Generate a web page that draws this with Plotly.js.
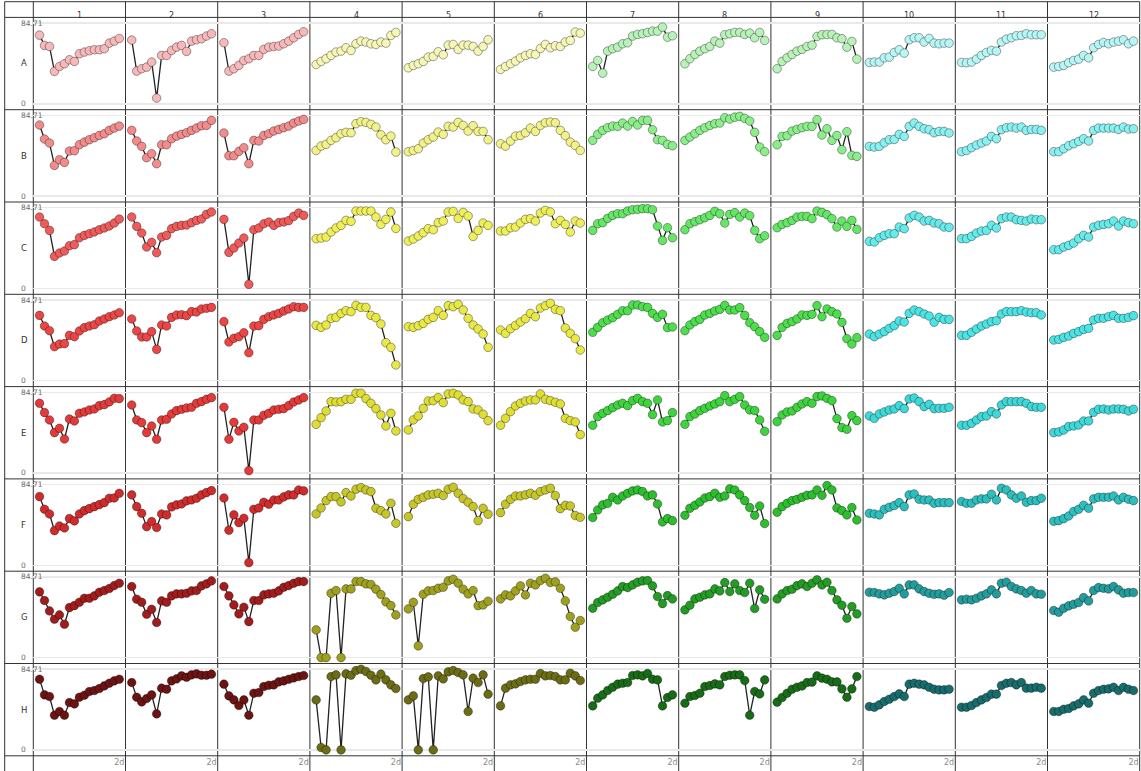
<!DOCTYPE html>
<html><head><meta charset="utf-8">
<script src="https://cdn.plot.ly/plotly-3.0.1.min.js"></script>
<style>html,body{margin:0;padding:0;background:#fff}#chart{width:1141px;height:771px}</style>
</head><body><div id="chart"></div>
<script>
const rowLabels = ['A','B','C','D','E','F','G','H'];
const colLabels = ['1','2','3','4','5','6','7','8','9','10','11','12'];
const timeSteps = [0,1,2,3,4,5,6,7,8,9,10,11,12,13,14,15,16];
const xTickLabel = '2d';
const yMin = 0;
const yMax = 84.71;

const A1 = [72.1,61.3,60.2,34.0,39.2,42.0,46.2,44.5,52.5,54.3,55.7,56.7,56.7,57.8,63.7,65.8,68.6];
const A2 = [66.9,34.3,36.8,38.5,43.8,6.0,50.8,50.8,56.0,59.5,61.3,55.0,65.8,67.2,68.3,71.1,73.5];
const A3 = [64.1,34.3,36.8,40.3,45.5,47.3,50.8,50.8,57.1,59.5,60.2,60.6,63.0,65.8,69.3,72.8,75.6];
const A4 = [41.3,44.5,47.3,50.8,54.3,55.3,58.8,56.0,63.0,65.8,64.8,63.0,62.3,64.8,63.7,71.8,74.9];
const A5 = [37.8,40.3,42.0,44.5,49.0,49.7,54.6,51.5,61.6,62.3,57.1,61.6,61.6,60.2,55.3,60.2,67.2];
const A6 = [36.1,39.2,42.0,44.8,48.3,50.8,52.5,51.8,58.1,62.3,58.8,60.9,60.2,64.8,66.5,75.3,74.2];
const A7 = [39.2,45.5,32.2,55.3,57.8,59.5,63.0,64.1,71.1,72.8,73.5,74.9,76.3,76.3,80.5,70.0,71.4];
const A8 = [42.0,47.3,51.8,55.3,57.8,60.2,65.8,63.7,72.5,73.5,74.9,74.9,72.8,74.2,69.3,74.9,66.5];
const A9 = [36.8,44.5,48.3,51.8,55.3,57.1,60.2,61.6,70.7,72.5,72.8,72.8,69.3,68.3,59.5,65.5,46.9];
const A10 = [43.4,43.8,43.8,48.3,49.0,53.9,56.7,53.2,67.2,69.3,69.3,64.8,68.6,63.7,63.0,63.7,63.7];
const A11 = [43.4,43.1,43.8,46.9,50.8,53.9,56.0,55.3,64.8,67.9,69.3,71.4,71.8,73.5,72.5,72.5,72.5];
const A12 = [38.5,39.2,40.3,43.1,45.5,46.9,50.8,48.3,58.8,62.3,64.4,63.0,64.8,65.8,67.2,63.0,65.8];

const B1 = [74.6,59.9,55.7,32.2,38.2,35.4,47.3,47.6,53.9,56.7,59.2,61.3,63.7,65.5,69.0,71.4,73.5];
const B2 = [69.0,57.8,52.2,40.3,44.5,34.0,53.9,53.9,60.2,63.0,64.8,66.5,69.0,71.4,73.9,74.2,79.5];
const B3 = [66.2,42.4,42.4,46.9,50.8,34.0,58.5,57.8,63.7,65.5,68.3,70.0,71.8,73.5,76.7,78.8,80.5];
const B4 = [47.9,52.5,54.3,58.5,61.3,65.5,66.9,66.5,76.0,78.1,77.4,75.3,72.5,64.4,59.2,63.0,46.2];
const B5 = [46.6,47.9,49.7,55.7,59.2,62.0,67.2,64.8,73.2,72.5,77.4,74.2,68.3,73.9,67.9,67.9,59.2];
const B6 = [55.0,52.5,57.8,63.0,63.7,66.5,71.4,67.9,74.2,77.0,77.7,77.0,69.0,63.4,56.7,53.2,47.9];
const B7 = [58.5,64.8,69.0,71.8,73.5,73.2,76.7,73.5,78.4,74.6,79.5,79.5,69.7,59.2,58.5,54.3,52.9];
const B8 = [58.5,62.0,65.5,69.0,71.8,74.2,76.0,76.7,82.3,80.9,82.9,83.7,81.6,78.8,66.9,51.5,46.6];
const B9 = [53.9,62.7,63.4,68.3,70.0,71.8,73.2,73.2,80.2,64.1,70.7,58.5,63.7,48.7,67.6,42.7,41.7];
const B10 = [52.2,51.5,52.2,56.0,59.2,59.5,64.8,62.7,73.2,76.7,73.2,70.7,69.7,66.5,67.9,67.9,66.2];
const B11 = [46.6,47.9,50.8,53.6,55.7,57.8,62.7,60.2,69.7,71.8,72.5,71.4,72.5,69.0,70.0,70.0,69.0];
const B12 = [46.6,46.6,49.7,52.9,55.0,57.4,60.2,57.8,69.0,71.4,71.4,71.4,71.4,70.0,72.5,70.4,70.7];

const C1 = [74.9,67.9,60.9,33.6,37.1,39.2,44.8,45.9,53.2,55.7,57.4,59.2,61.6,63.4,65.5,68.6,72.8];
const C2 = [74.9,65.1,58.1,43.4,48.3,37.5,53.9,55.7,62.7,65.1,66.2,66.5,69.0,71.4,72.8,77.7,80.2];
const C3 = [72.5,37.8,42.4,47.6,52.9,4.2,61.6,63.4,67.9,69.7,66.2,69.0,69.7,71.1,75.6,79.1,76.7];
const C4 = [52.2,52.9,53.9,59.2,63.4,66.2,71.4,70.4,81.2,81.2,81.2,81.2,74.9,67.2,72.5,80.2,63.0];
const C5 = [49.7,51.8,55.0,58.5,62.7,61.6,69.0,70.7,80.2,80.9,73.5,79.8,76.0,54.6,60.9,68.6,66.2];
const C6 = [60.2,60.2,63.7,64.4,68.6,72.5,73.2,70.7,79.1,81.9,80.2,67.9,71.4,67.2,59.2,70.7,68.6];
const C7 = [60.9,67.9,69.0,73.5,76.7,78.4,78.4,81.2,82.6,83.0,83.7,83.7,82.6,65.5,50.4,63.7,53.2];
const C8 = [61.6,67.9,70.0,72.1,74.2,76.7,80.9,78.4,68.6,77.7,79.5,74.9,79.1,76.3,60.9,52.2,55.3];
const C9 = [63.7,67.2,69.0,71.4,74.9,75.6,75.6,73.2,81.2,79.8,77.4,73.2,64.4,70.7,65.1,71.4,62.0];
const C10 = [49.4,48.7,53.2,55.7,57.4,57.4,64.4,62.7,73.9,76.7,74.9,70.7,71.4,68.6,67.9,64.4,64.1];
const C11 = [52.2,52.2,54.6,58.1,60.2,60.9,66.2,63.4,73.2,74.9,74.9,72.1,71.4,70.7,72.8,72.1,72.1];
const C12 = [40.6,40.6,43.4,45.2,47.6,52.2,55.7,53.9,64.4,66.2,67.2,67.9,70.7,65.5,70.7,69.0,67.9];

const D1 = [68.6,57.4,52.5,35.7,38.5,38.9,47.6,46.2,52.2,55.7,57.4,58.8,62.7,64.8,67.2,69.0,71.4];
const D2 = [64.8,52.2,45.9,45.9,51.5,32.9,58.5,57.4,66.5,69.0,69.3,68.3,72.5,72.1,75.3,76.0,77.0];
const D3 = [62.0,40.6,44.5,46.2,50.4,29.4,57.4,57.8,64.4,67.2,69.0,70.7,73.2,75.3,77.7,77.0,77.0];
const D4 = [58.1,56.0,58.5,65.5,66.5,70.7,73.5,72.5,79.1,77.0,77.0,68.6,66.2,59.5,39.9,35.0,16.5];
const D5 = [56.7,56.0,57.8,60.2,64.4,66.5,73.5,68.6,78.8,77.7,80.2,74.2,65.5,58.5,54.3,49.0,35.0];
const D6 = [53.2,49.7,54.6,58.1,61.6,65.1,70.7,67.2,76.3,78.8,81.2,74.9,73.5,55.3,49.7,44.1,32.2];
const D7 = [50.8,56.0,60.9,63.7,66.2,69.7,73.5,73.5,79.5,79.5,77.7,77.0,70.7,66.5,69.7,55.7,56.4];
const D8 = [52.5,58.5,62.0,64.4,69.0,70.7,73.2,74.9,79.1,74.2,74.2,76.7,68.6,60.9,56.7,51.5,45.5];
const D9 = [47.6,56.0,60.2,62.0,64.8,69.0,68.6,69.7,78.8,67.2,75.3,72.5,70.0,61.3,44.1,38.5,45.2];
const D10 = [49.0,46.2,49.0,51.5,55.0,57.8,62.7,61.6,70.7,74.2,72.5,70.0,67.9,61.3,66.5,64.4,64.4];
const D11 = [47.6,47.6,50.8,54.3,57.4,59.5,62.0,63.0,70.0,72.5,72.5,72.5,73.5,72.1,71.4,71.4,69.0];
const D12 = [42.7,43.4,45.5,46.9,49.7,51.5,53.9,55.0,63.7,65.5,65.5,67.2,68.6,65.5,65.5,66.5,68.3];

const E1 = [73.2,63.4,55.7,42.4,46.9,35.7,56.7,54.6,62.7,64.1,66.2,67.2,70.7,71.8,74.6,78.4,78.1];
const E2 = [71.4,55.7,52.9,42.4,49.4,35.4,55.7,56.4,62.0,65.5,66.9,68.3,69.0,73.2,74.9,77.4,79.1];
const E3 = [69.0,35.4,53.2,44.1,48.0,2.5,55.7,55.7,60.6,62.7,66.2,66.9,67.6,70.7,74.6,76.7,79.1];
const E4 = [51.1,58.1,65.1,74.9,74.6,74.9,77.4,77.4,83.7,83.7,78.1,73.2,67.6,60.9,49.4,62.7,44.1];
const E5 = [45.2,55.7,59.9,67.9,75.6,75.9,79.1,73.9,83.0,83.7,81.9,76.7,74.9,67.2,66.2,61.6,55.0];
const E6 = [50.1,57.4,64.4,70.4,73.2,75.6,76.7,76.7,83.0,77.4,76.0,74.2,72.5,57.4,55.0,53.6,40.3];
const E7 = [50.1,59.2,62.7,65.5,68.6,71.4,73.2,70.7,76.0,78.4,74.9,73.2,61.3,76.7,53.6,55.0,63.4];
const E8 = [51.1,59.2,62.0,65.5,67.9,70.4,72.5,74.9,81.2,74.9,77.4,80.2,71.4,66.2,65.5,55.7,43.8];
const E9 = [53.9,60.9,64.1,65.1,69.0,72.5,74.9,73.2,80.2,80.9,78.4,76.0,57.1,47.6,45.9,60.2,55.0];
const E10 = [59.9,57.4,62.0,64.1,66.2,67.2,70.7,67.6,77.7,78.8,74.9,69.7,72.1,67.6,67.9,67.9,69.0];
const E11 = [50.1,50.1,52.2,55.7,59.2,59.9,64.4,62.0,71.4,74.9,74.9,74.9,74.9,73.2,69.7,69.0,69.0];
const E12 = [42.4,43.1,45.2,48.7,49.4,50.4,54.6,54.6,63.7,66.9,67.2,66.2,67.2,67.2,66.9,65.1,66.9];

const F1 = [72.1,58.8,53.9,36.4,41.3,39.2,49.0,46.6,53.9,57.4,59.5,61.6,63.7,65.8,70.4,70.7,75.6];
const F2 = [73.9,61.6,54.6,40.6,45.9,39.6,53.9,52.9,61.3,63.4,64.4,67.6,68.6,70.4,73.9,76.3,78.4];
const F3 = [70.7,36.8,52.9,44.8,49.4,2.8,58.8,60.2,66.2,64.1,68.6,68.6,71.8,73.9,73.9,79.1,78.1];
const F4 = [53.9,60.2,67.9,72.1,72.1,66.5,76.3,72.8,79.8,81.6,79.1,77.4,59.9,57.4,53.9,65.1,44.1];
const F5 = [51.1,64.1,69.3,71.4,73.9,74.6,75.6,73.2,79.8,81.9,75.6,70.0,66.2,61.6,46.9,59.9,53.6];
const F6 = [55.3,64.1,69.3,72.8,72.8,73.9,75.6,73.5,77.4,79.1,80.9,73.2,59.5,63.0,62.3,52.2,50.4];
const F7 = [50.1,58.1,63.4,65.1,71.4,68.6,72.8,75.6,78.1,79.1,77.4,72.8,73.9,64.4,45.5,49.0,46.9];
const F8 = [52.5,59.9,63.0,66.5,70.7,72.1,75.6,71.4,72.8,80.2,79.1,73.9,67.9,60.6,52.5,62.3,43.8];
const F9 = [55.7,61.6,65.1,67.9,69.3,71.4,73.5,73.9,79.1,73.5,83.7,79.1,60.2,57.4,52.9,60.6,47.6];
const F10 = [54.6,53.9,52.9,58.8,60.9,62.7,65.8,61.6,73.9,74.9,69.3,68.6,68.6,65.1,65.8,65.8,65.8];
const F11 = [66.9,65.1,65.1,68.6,69.7,69.7,74.6,68.6,80.9,79.1,73.9,70.4,72.8,66.2,67.9,67.9,70.4];
const F12 = [46.2,46.9,49.0,51.8,56.4,58.8,63.0,59.9,69.7,71.4,71.4,71.4,72.8,68.6,71.4,69.3,67.9];

const G1 = [69.0,59.9,49.0,40.3,44.8,35.0,52.5,54.6,58.1,62.3,62.3,64.8,68.6,70.4,72.5,75.6,78.1];
const G2 = [74.6,61.3,58.1,45.5,50.8,36.8,59.5,58.1,64.8,66.9,66.9,67.6,70.0,70.4,75.3,77.4,80.5];
const G3 = [74.6,64.8,55.3,45.9,52.9,37.8,59.9,59.9,65.8,66.9,67.6,70.0,73.9,75.6,78.1,79.8,79.8];
const G4 = [29.1,0,0,67.6,70.4,0,72.1,72.1,79.8,79.8,77.4,76.7,71.8,66.2,58.5,54.6,44.8];
const G5 = [51.1,58.1,12.3,66.5,70.0,70.4,72.8,73.9,80.5,82.3,78.1,71.8,66.9,70.4,54.6,55.3,59.2];
const G6 = [61.6,65.8,64.8,70.0,75.3,65.8,78.1,76.3,80.9,83.3,78.8,79.5,72.8,59.5,43.1,31.9,38.9];
const G7 = [51.8,57.8,60.6,63.4,66.5,70.0,74.6,73.5,76.3,79.1,80.5,80.9,75.3,64.1,56.7,65.1,61.6];
const G8 = [50.1,55.0,61.6,63.4,65.8,66.9,72.1,70.0,78.8,69.3,77.4,70.4,68.3,78.1,51.5,71.1,61.3];
const G9 = [61.6,66.9,70.4,71.8,75.6,77.4,74.6,78.1,81.6,76.3,79.1,70.4,60.6,55.0,41.3,53.6,45.9];
const G10 = [68.6,68.3,66.9,65.8,67.6,69.3,72.8,66.9,76.3,76.3,72.1,69.3,67.6,66.5,66.9,65.5,68.3];
const G11 = [60.6,61.3,60.6,62.3,64.8,66.9,71.1,66.9,78.1,79.1,74.6,72.1,70.4,67.6,70.4,66.9,66.5];
const G12 = [49.4,47.6,51.8,54.3,56.0,57.8,63.0,59.5,70.4,73.5,72.8,72.1,74.6,71.1,67.6,68.3,68.3];

const H1 = [74.2,57.8,56.0,36.4,40.3,36.4,49.7,48.3,55.3,57.4,61.3,62.3,64.4,67.2,70.0,72.5,74.2];
const H2 = [70.7,55.3,50.4,53.9,57.8,37.8,64.8,63.7,72.5,74.6,77.7,76.3,78.8,79.8,78.4,78.4,79.5];
const H3 = [69.0,56.7,52.5,46.6,52.5,36.4,59.5,60.2,66.5,67.9,68.3,71.4,72.5,74.2,75.6,77.0,78.1];
const H4 = [52.5,2.5,0,77.0,78.8,0,79.8,78.4,83.3,84.71,82.3,78.4,73.5,79.5,73.5,68.3,64.4];
const H5 = [52.5,56.7,0,74.9,76.7,0,77.7,74.6,81.9,83.3,81.2,78.8,40.3,75.3,70.7,78.8,58.5];
const H6 = [46.2,64.8,68.3,69.3,71.8,73.5,74.2,74.2,80.2,77.7,78.1,77.0,73.5,73.5,80.5,77.7,72.8];
const H7 = [46.2,54.3,57.8,62.3,65.8,69.0,70.0,70.7,78.1,78.8,77.7,80.2,74.2,73.5,46.2,55.0,57.8];
const H8 = [49.0,56.0,57.1,59.5,66.5,67.6,69.3,68.3,77.0,78.4,78.8,78.8,72.8,36.4,61.3,58.8,73.5];
const H9 = [50.1,55.0,59.5,63.7,65.8,67.2,70.7,71.1,77.7,75.3,74.2,71.4,71.4,64.1,55.3,64.1,77.0];
const H10 = [45.5,44.8,47.3,50.8,53.2,56.0,58.8,56.0,69.0,70.0,69.0,68.3,65.8,63.7,63.0,63.0,63.7];
const H11 = [44.8,44.8,46.6,49.7,52.5,55.0,58.5,58.5,67.6,70.0,70.7,68.3,70.7,64.8,64.8,65.8,64.8];
const H12 = [40.3,40.3,42.7,43.4,46.2,48.3,52.5,49.0,59.5,62.3,63.7,64.1,65.8,62.3,65.8,63.7,62.3];

const redShades    = ['#f6b8b8','#f28b8b','#ef5b5b','#ea4646','#e33a3a','#cf2d2d','#a11d1d','#6c1313'];
const yellowShades = ['#f6f6b8','#f2f28b','#efef5b','#e8e846','#dede36','#c6c62a','#a0a020','#6c6c16'];
const greenShades  = ['#b8f2b8','#8bee8b','#66e666','#4ddd4d','#3fd43f','#2ebd2e','#249b24','#186c18'];
const cyanShades   = ['#b8f6f6','#8bf0f0','#66eaea','#4de3e3','#3fd8d8','#2ebebe','#249c9c','#186c6c'];

const grid = [
  [A1,A2,A3,A4,A5,A6,A7,A8,A9,A10,A11,A12],
  [B1,B2,B3,B4,B5,B6,B7,B8,B9,B10,B11,B12],
  [C1,C2,C3,C4,C5,C6,C7,C8,C9,C10,C11,C12],
  [D1,D2,D3,D4,D5,D6,D7,D8,D9,D10,D11,D12],
  [E1,E2,E3,E4,E5,E6,E7,E8,E9,E10,E11,E12],
  [F1,F2,F3,F4,F5,F6,F7,F8,F9,F10,F11,F12],
  [G1,G2,G3,G4,G5,G6,G7,G8,G9,G10,G11,G12],
  [H1,H2,H3,H4,H5,H6,H7,H8,H9,H10,H11,H12]
];
const palettes = [redShades, yellowShades, greenShades, cyanShades];

// layout geometry (pixels)
const W = 1141, H = 771;
const X0 = 33.3, CW = 92.2, Y0 = 17.4, RH = 92.3;
const LEFT = 4.7, TOP = 1.7, RIGHT = X0 + CW * 12;
const px = p => p / W;
const py = p => 1 - p / H;
const FONT = 'DejaVu Sans, Verdana, sans-serif';

const traces = [];
const layout = {
  width: W, height: H,
  margin: {l: 0, r: 0, t: 0, b: 0},
  paper_bgcolor: '#ffffff',
  plot_bgcolor: 'rgba(0,0,0,0)',
  showlegend: false,
  hovermode: false,
  font: {family: FONT, size: 8, color: '#444'},
  shapes: [],
  annotations: []
};

const nRows = rowLabels.length, nCols = colLabels.length;
for (let j = 0; j < nRows; j++) {
  for (let i = 0; i < nCols; i++) {
    const n = j * nCols + i + 1;
    const xa = n === 1 ? 'x' : 'x' + n;
    const ya = n === 1 ? 'y' : 'y' + n;
    const color = palettes[Math.floor(i / 3)][j];
    traces.push({
      type: 'scatter', mode: 'lines+markers',
      x: timeSteps, y: grid[j][i],
      xaxis: xa, yaxis: ya,
      cliponaxis: false,
      line: {color: '#222', width: 1.3},
      marker: {size: 8.6, color: color, line: {color: 'rgba(0,0,0,0.45)', width: 0.8}},
      hoverinfo: 'skip'
    });
    const bottom = (j === nRows - 1);
    layout[n === 1 ? 'xaxis' : 'xaxis' + n] = {
      domain: [px(X0 + CW * i), px(X0 + CW * (i + 1))],
      anchor: ya,
      range: [-1.25, 17.25],
      showgrid: false, zeroline: false, showline: false, ticks: '',
      tickmode: 'array', tickvals: [timeSteps[timeSteps.length - 1]], ticktext: [xTickLabel],
      showticklabels: bottom,
      tickfont: {family: FONT, size: 8, color: '#8a8a8a'},
      fixedrange: true
    };
    layout[n === 1 ? 'yaxis' : 'yaxis' + n] = {
      domain: [py(Y0 + RH * (j + 1)), py(Y0 + RH * j)],
      anchor: xa,
      range: [-6.2, 90.7],
      showgrid: true, gridcolor: '#e9e9e9', gridwidth: 1.5,
      zeroline: false, showline: false, ticks: '',
      tickmode: 'array', tickvals: [yMin, yMax],
      showticklabels: false,
      fixedrange: true
    };
    if (j === 0) {
      layout.annotations.push({
        xref: xa, x: timeSteps[8], yref: 'paper', y: py(9.5),
        text: colLabels[i], showarrow: false,
        font: {family: FONT, size: 8, color: '#333'}
      });
    }
    if (i === 0) {
      layout.annotations.push({
        xref: 'paper', x: px(18.8), yref: ya, y: yMax,
        text: yMax.toFixed(2), showarrow: false,
        font: {family: FONT, size: 7.5, color: '#6a6a6a'}
      });
      layout.annotations.push({
        xref: 'paper', x: px(18.8), yref: ya, y: yMin,
        text: String(yMin), showarrow: false,
        font: {family: FONT, size: 7.5, color: '#6a6a6a'}
      });
      layout.annotations.push({
        xref: 'paper', x: px(19), yref: ya, y: yMax / 2,
        text: rowLabels[j], showarrow: false,
        font: {family: FONT, size: 8.5, color: '#333'}
      });
    }
  }
}

const lineStyle = {color: '#333', width: 1};
// vertical separators
layout.shapes.push({type: 'line', xref: 'paper', yref: 'paper', x0: px(LEFT), x1: px(LEFT), y0: py(TOP), y1: 0, line: lineStyle, layer: 'below'});
for (let i = 0; i <= nCols; i++) {
  const x = px(X0 + CW * i);
  layout.shapes.push({type: 'line', xref: 'paper', yref: 'paper', x0: x, x1: x, y0: py(TOP), y1: 0, line: lineStyle, layer: 'below'});
}
// horizontal separators
layout.shapes.push({type: 'line', xref: 'paper', yref: 'paper', x0: px(LEFT), x1: px(RIGHT), y0: py(TOP), y1: py(TOP), line: lineStyle, layer: 'below'});
for (let j = 0; j <= nRows; j++) {
  const y = py(Y0 + RH * j);
  layout.shapes.push({type: 'line', xref: 'paper', yref: 'paper', x0: px(LEFT), x1: px(RIGHT), y0: y, y1: y, line: lineStyle, layer: 'below'});
}

Plotly.newPlot('chart', traces, layout, {displayModeBar: false, staticPlot: true});
</script>
</body></html>
